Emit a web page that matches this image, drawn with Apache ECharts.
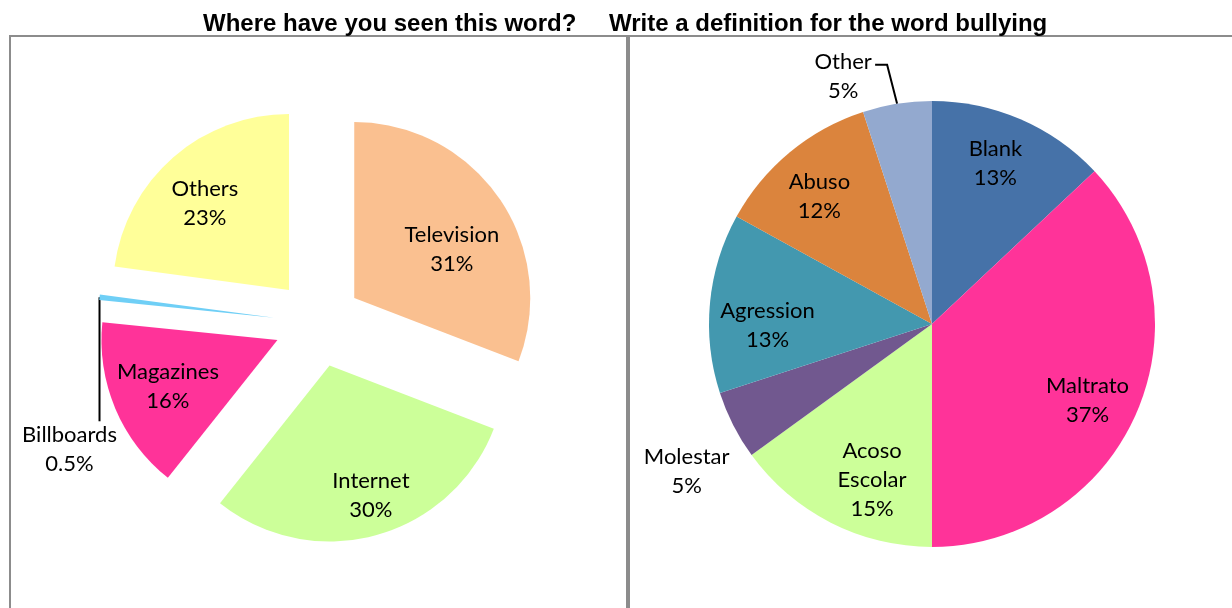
<!DOCTYPE html>
<html>
<head>
<meta charset="utf-8">
<script src="https://cdn.jsdelivr.net/npm/echarts@6/dist/echarts.min.js"></script>
<style>
  html, body { margin: 0; padding: 0; background: #ffffff; }
  #chart { width: 1232px; height: 608px; }
</style>
</head>
<body>
<div id="chart"></div>
<script>
// Survey answers: where the word was seen, and how it was defined
const seenNames = ['Television', 'Internet', 'Magazines', 'Billboards', 'Others'];
const seenValues = [31, 30, 16, 0.5, 23];

const defNames = ['Blank', 'Maltrato', 'Acoso Escolar', 'Molestar', 'Agression', 'Abuso', 'Other'];
const defValues = [13, 37, 15, 5, 13, 12, 5];

const chartTitles = ['Where have you seen this word?', 'Write a definition for the word bullying'];

// Styling
const seenColors = ['#FAC090', '#CCFF99', '#FF3399', '#6FCFF6', '#FFFF99'];
const defColors = ['#4672A8', '#FF3399', '#CCFF99', '#71588F', '#4398AF', '#DB843D', '#93A9CF'];

const LEFT = { cx: 318, cy: 323, r: 176, offset: 44 };
const RIGHT = { cx: 932, cy: 324, r: 223 };
const LABEL_FONT = { fontFamily: 'Lato', fontSize: 22, lineHeight: 29, color: '#000000' };
const TITLE_FONT = { fontFamily: 'Liberation Sans', fontWeight: 'bold', fontSize: 24, color: '#000000' };

// Label placement: distance along the slice's mid angle (fraction of radius) plus a small pixel nudge
const seenLabelFrac = 0.7;
const seenLabelNudge = { Television: [-4, 21], Internet: [9, 11], Magazines: [4, -1], Others: [-3, 6] };
const defLabelFrac = { Molestar: 1.28 };
const defLabelNudge = {
  Blank: [-3, -7], Maltrato: [2, 10], 'Acoso Escolar': [16, 7],
  Molestar: [9, 18], Agression: [2, 17], Abuso: [-6, 1]
};

// Mid angle of a slice, in radians clockwise from 12 o'clock
function midAngle(values, i) {
  const total = values.reduce((a, b) => a + b, 0);
  let acc = 0;
  for (let k = 0; k < i; k++) acc += values[k];
  return (acc + values[i] / 2) / total * Math.PI * 2;
}
function polar(c, dist, a) {
  return [c.cx + dist * Math.sin(a), c.cy - dist * Math.cos(a)];
}

const labelText = p => p.name.replace(' ', '\n') + '\n' + p.value + '%';
const hidden = 'rgba(0,0,0,0)';

// Exploded pie: one series per slice, each shifted outward along its own mid angle
const seenSeries = seenNames.map((name, i) => {
  const a = midAngle(seenValues, i);
  const c = polar(LEFT, LEFT.offset, a);
  const isOutside = name === 'Billboards';
  return {
    type: 'pie',
    center: c,
    radius: [0, LEFT.r],
    startAngle: 90,
    clockwise: true,
    silent: true,
    avoidLabelOverlap: false,
    itemStyle: { borderWidth: 0 },
    label: Object.assign({ formatter: labelText }, LABEL_FONT),
    labelLine: { lineStyle: { color: '#000000', width: 2 } },
    labelLayout: function () {
      if (isOutside) {
        const e = polar(LEFT, LEFT.offset + LEFT.r, a);
        return {
          x: e[0] - 30, y: e[1] + 152, align: 'center', verticalAlign: 'middle',
          labelLinePoints: [e, e, [e[0], e[1] + 124]]
        };
      }
      const pt = polar(LEFT, LEFT.offset + LEFT.r * seenLabelFrac, a);
      const d = seenLabelNudge[name] || [0, 0];
      return { x: pt[0] + d[0], y: pt[1] + d[1], align: 'center', verticalAlign: 'middle' };
    },
    data: seenNames.map((n, j) => j === i ? {
      name: n,
      value: seenValues[j],
      itemStyle: { color: seenColors[j] },
      label: { show: true, position: isOutside ? 'outside' : 'inside' },
      labelLine: { show: isOutside }
    } : {
      name: n,
      value: seenValues[j],
      itemStyle: { color: hidden },
      label: { show: false },
      labelLine: { show: false }
    })
  };
});

const defSeries = {
  type: 'pie',
  center: [RIGHT.cx, RIGHT.cy],
  radius: [0, RIGHT.r],
  startAngle: 90,
  clockwise: true,
  silent: true,
  avoidLabelOverlap: false,
  itemStyle: { borderWidth: 0 },
  label: Object.assign({ formatter: labelText }, LABEL_FONT),
  labelLine: { lineStyle: { color: '#000000', width: 2 } },
  labelLayout: function (p) {
    const name = defNames[p.dataIndex];
    const a = midAngle(defValues, p.dataIndex);
    if (name === 'Other') {
      const e = polar(RIGHT, RIGHT.r, a);
      return {
        x: e[0] - 54, y: e[1] - 27, align: 'center', verticalAlign: 'middle',
        labelLinePoints: [e, [e[0] - 10, e[1] - 39], [e[0] - 22, e[1] - 39]]
      };
    }
    const frac = defLabelFrac[name] || 0.75;
    const pt = polar(RIGHT, RIGHT.r * frac, a);
    const d = defLabelNudge[name] || [0, 0];
    return { x: pt[0] + d[0], y: pt[1] + d[1], align: 'center', verticalAlign: 'middle' };
  },
  data: defNames.map((n, i) => ({
    name: n,
    value: defValues[i],
    itemStyle: { color: defColors[i] },
    label: { position: n === 'Other' ? 'outside' : 'inside' },
    labelLine: { show: n === 'Other' }
  }))
};

const chart = echarts.init(document.getElementById('chart'), null, { renderer: 'canvas' });

chart.setOption({
  animation: false,
  backgroundColor: '#ffffff',
  title: [
    { text: chartTitles[0], left: 203, top: 12, padding: 0, textStyle: TITLE_FONT },
    { text: chartTitles[1], left: 609, top: 12, padding: 0, textStyle: TITLE_FONT }
  ],
  graphic: [
    { type: 'rect', shape: { x: 10, y: 36, width: 617, height: 620 }, style: { fill: 'none', stroke: '#8c8c8c', lineWidth: 2 }, z: 0 },
    { type: 'rect', shape: { x: 629, y: 36, width: 700, height: 620 }, style: { fill: 'none', stroke: '#8c8c8c', lineWidth: 2 }, z: 0 }
  ],
  series: seenSeries.concat([defSeries])
});
</script>
</body>
</html>
